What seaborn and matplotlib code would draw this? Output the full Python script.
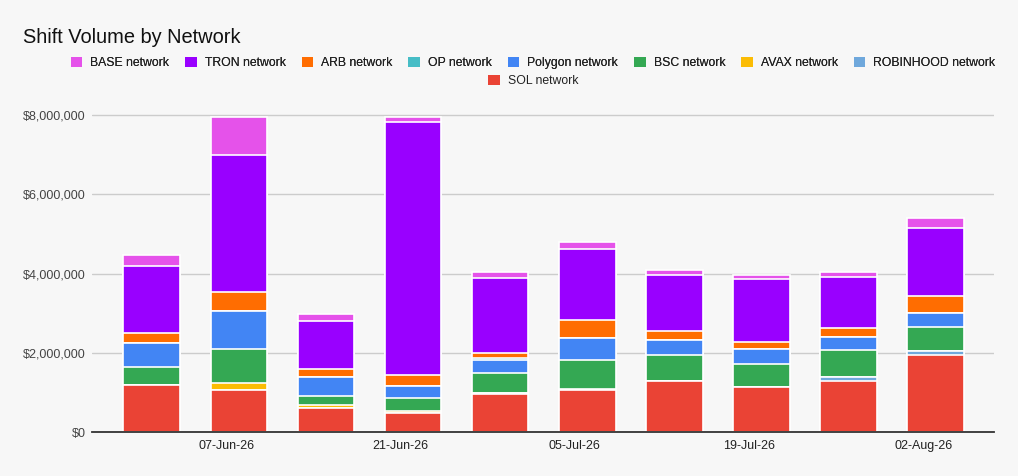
import matplotlib
matplotlib.use("Agg")
import matplotlib.pyplot as plt
from matplotlib.patches import Patch
from matplotlib.ticker import FuncFormatter
import seaborn as sns
import numpy as np

# ---- data (values in US$) ----
weeks = ["01-Jun-26", "08-Jun-26", "15-Jun-26", "22-Jun-26", "29-Jun-26",
         "06-Jul-26", "13-Jul-26", "20-Jul-26", "27-Jul-26", "03-Aug-26"]
tick_labels = ["07-Jun-26", "21-Jun-26", "05-Jul-26", "19-Jul-26", "02-Aug-26"]

sol       = [1190000, 1060000, 605000, 480000, 975000, 1075000, 1286000, 1134000, 1286000, 1940000]
robinhood = [0, 0, 0, 0, 5000, 0, 0, 0, 100000, 100000]
avax      = [10000, 175000, 75000, 55000, 5000, 10000, 0, 0, 0, 0]
bsc       = [440000, 855000, 236000, 330000, 505000, 730000, 655000, 580000, 680000, 607000]
polygon   = [600000, 960000, 480000, 300000, 325000, 555000, 390000, 376000, 328000, 353000]
op        = [0, 0, 0, 0, 50000, 0, 0, 0, 0, 0]
arb       = [260000, 480000, 210000, 270000, 135000, 460000, 225000, 180000, 245000, 430000]
tron      = [1690000, 3450000, 1200000, 6400000, 1880000, 1780000, 1400000, 1587000, 1270000, 1730000]
base      = [290000, 980000, 185000, 120000, 170000, 195000, 135000, 118000, 140000, 250000]

# bottom -> top stacking order
series = [
    ("SOL network", sol, "#ea4335"),
    ("ROBINHOOD network", robinhood, "#6fa8dc"),
    ("AVAX network", avax, "#fbbc04"),
    ("BSC network", bsc, "#34a853"),
    ("Polygon network", polygon, "#4285f4"),
    ("OP network", op, "#46bdc6"),
    ("ARB network", arb, "#ff6d01"),
    ("TRON network", tron, "#9900ff"),
    ("BASE network", base, "#e552ea"),
]

BG = "#f7f7f7"
sns.set_theme(style="white")
plt.rcParams["font.family"] = ["Liberation Sans", "DejaVu Sans"]

fig = plt.figure(figsize=(10.18, 4.76), dpi=100, facecolor=BG)
ax = fig.add_axes([0.0901, 0.0918, 0.8864, 0.6708])
ax.set_facecolor(BG)

cum = np.cumsum(np.array([s[1] for s in series], dtype=float), axis=0)
# draw tallest cumulative layer first so lower layers overlay it
for i in range(len(series) - 1, -1, -1):
    name, vals, col = series[i]
    sns.barplot(x=weeks, y=cum[i], color=col, width=0.65, edgecolor="white",
                linewidth=1.2, errorbar=None, saturation=1, ax=ax, zorder=3)

ax.set_ylim(0, 8050000)
ax.set_xlim(-0.689, 9.67)
ax.set_yticks([0, 2000000, 4000000, 6000000, 8000000])
ax.yaxis.set_major_formatter(FuncFormatter(lambda v, p: "${:,.0f}".format(v)))
ax.grid(axis="y", color="#cccccc", linewidth=1, zorder=0)
ax.set_axisbelow(True)
ax.set_xticks([k - 1 / 7 for k in (1, 3, 5, 7, 9)])
ax.set_xticklabels(tick_labels)
ax.tick_params(axis="both", length=0, labelsize=9, colors="#444444")
ax.tick_params(axis="y", pad=4.5)
ax.tick_params(axis="x", pad=5.5, labelcolor="#222222")
ax.set_xlabel("")
ax.set_ylabel("")
for side in ("top", "right", "left"):
    ax.spines[side].set_visible(False)
ax.spines["bottom"].set_color("#333333")
ax.spines["bottom"].set_linewidth(1.3)
ax.spines["bottom"].set_zorder(5)

fig.text(23 / 1018, 1 - 43 / 476, "Shift Volume by Network", fontsize=14.4,
         color="#111111", va="baseline", ha="left")

legend_order = ["BASE network", "TRON network", "ARB network", "OP network",
                "Polygon network", "BSC network", "AVAX network", "ROBINHOOD network"]
colors = {n: c for n, _, c in series}
h1 = [Patch(facecolor=colors[n], edgecolor="none", label=n) for n in legend_order]
h2 = [Patch(facecolor=colors["SOL network"], edgecolor="none", label="SOL network")]
common = dict(frameon=False, fontsize=8.8, handlelength=0.95, handleheight=0.95,
              handletextpad=0.65, columnspacing=1.3, labelcolor="#222222",
              loc="center", borderaxespad=0, borderpad=0)
leg1 = fig.legend(handles=h1, ncol=8, bbox_to_anchor=(0.5236, 1 - 63 / 476), **common)
fig.add_artist(leg1)
fig.legend(handles=h2, ncol=1, bbox_to_anchor=(0.5236, 1 - 81 / 476), **common)

fig.savefig("out.png", dpi=100, facecolor=BG)
